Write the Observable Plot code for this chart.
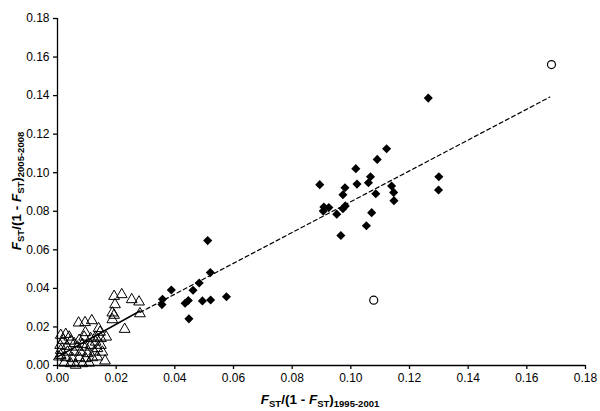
<!DOCTYPE html>
<html>
<head>
<meta charset="utf-8">
<script src="https://cdn.jsdelivr.net/npm/d3@7"></script>
<script src="https://cdn.jsdelivr.net/npm/@observablehq/plot@0.6"></script>
<style>
  html, body { margin: 0; padding: 0; background: white; }
</style>
</head>
<body>
<div id="chart"></div>
<script>
// Tick values
const xTicks = [0, 0.02, 0.04, 0.06, 0.08, 0.10, 0.12, 0.14, 0.16, 0.18];
const yTicks = [0, 0.02, 0.04, 0.06, 0.08, 0.10, 0.12, 0.14, 0.16, 0.18];

// Open triangles (small values)
const triX = [0.0193, 0.0219, 0.0253, 0.0278, 0.0196, 0.0187, 0.0193, 0.0187, 0.0281, 0.0072,
              0.0094, 0.0117, 0.0095, 0.0140, 0.0145, 0.0166, 0.0229, 0.0162, 0.0028,
              0.0011, 0.0040, 0.0020, 0.0045, 0.0009, 0.0032, 0.0057, 0.0074, 0.0085, 0.0068,
              0.0096, 0.0113, 0.0130, 0.0136, 0.0148, 0.0153, 0.0125, 0.0102, 0.0079, 0.0057,
              0.0034, 0.0011, 0.0005, 0.0028, 0.0051, 0.0074, 0.0096, 0.0119, 0.0045, 0.0062,
              0.0085, 0.0108, 0.0023, 0.0130, 0.0148, 0.0011, 0.0136, 0.0091, 0.0113];
const triY = [0.0359, 0.0368, 0.0342, 0.0330, 0.0316, 0.0273, 0.0261, 0.0238, 0.0269, 0.0221,
              0.0223, 0.0233, 0.0171, 0.0192, 0.0173, 0.0148, 0.0188, 0.0024, 0.0162,
              0.0157, 0.0148, 0.0131, 0.0127, 0.0105, 0.0100, 0.0114, 0.0131, 0.0110, 0.0096,
              0.0096, 0.0105, 0.0122, 0.0088, 0.0105, 0.0070, 0.0070, 0.0062, 0.0070, 0.0070,
              0.0070, 0.0079, 0.0045, 0.0041, 0.0036, 0.0041, 0.0036, 0.0041, 0.0010, 0.0002,
              0.0010, 0.0013, 0.0013, 0.0148, 0.0140, 0.0053, 0.0045, 0.0148, 0.0140];

// Filled diamonds
const diaX = [0.1264, 0.1122, 0.1090, 0.1017, 0.0894, 0.1067, 0.1060, 0.1021, 0.0980, 0.0973,
              0.1085, 0.1139, 0.1146, 0.1147, 0.1300, 0.1299, 0.0908, 0.0925, 0.0906, 0.0952,
              0.0973, 0.0981, 0.1071, 0.1053, 0.0966,
              0.0512, 0.0521, 0.0483, 0.0462, 0.0388, 0.0358, 0.0356, 0.0446, 0.0435, 0.0494,
              0.0522, 0.0576, 0.0448];
const diaY = [0.1387, 0.1124, 0.1069, 0.1021, 0.0938, 0.0979, 0.0948, 0.0941, 0.0922, 0.0886,
              0.0891, 0.0931, 0.0898, 0.0855, 0.0979, 0.0910, 0.0822, 0.0819, 0.0801, 0.0785,
              0.0813, 0.0828, 0.0793, 0.0725, 0.0674,
              0.0648, 0.0482, 0.0428, 0.0390, 0.0392, 0.0344, 0.0316, 0.0337, 0.0323, 0.0335,
              0.0340, 0.0357, 0.0242];

// Open circles
const circX = [0.1684, 0.1078];
const circY = [0.1561, 0.0339];

// Regression lines (endpoints)
const solidX = [0.0, 0.0281];
const solidY = [0.0045, 0.0283];
const dashX = [0.0281, 0.1678];
const dashY = [0.0275, 0.1392];

const zip = (xs, ys) => xs.map((x, i) => ({x, y: ys[i]}));
const tri = zip(triX, triY);
const dia = zip(diaX, diaY);
const circ = zip(circX, circY);
const solid = zip(solidX, solidY);
const dash = zip(dashX, dashY);

const fmt = d => d.toFixed(2);

const chart = Plot.plot({
  width: 600,
  height: 411,
  marginLeft: 57,
  marginRight: 15,
  marginTop: 18,
  marginBottom: 46,
  x: {domain: [0, 0.18]},
  y: {domain: [0, 0.18]},
  style: {fontFamily: "'Liberation Sans', Arial, sans-serif", fontSize: "12px", color: "black", background: "white"},
  marks: [
    Plot.dot(tri, {x: "x", y: "y", symbol: "triangle", r: 4, fill: "none", stroke: "black", strokeWidth: 1}),
    Plot.line(solid, {x: "x", y: "y", stroke: "black", strokeWidth: 1.6}),
    Plot.line(dash, {x: "x", y: "y", stroke: "black", strokeWidth: 1.2, strokeDasharray: "4,3"}),
    Plot.dot(dia, {x: "x", y: "y", symbol: "diamond2", r: 4.1, fill: "black", stroke: "none"}),
    Plot.dot(circ, {x: "x", y: "y", r: 4, fill: "white", stroke: "black", strokeWidth: 1.2}),
    Plot.ruleX([0], {stroke: "black", strokeWidth: 1.3}),
    Plot.ruleY([0], {stroke: "black", strokeWidth: 1.3}),
    Plot.axisX(xTicks, {tickFormat: fmt, tickSize: 4, tickPadding: 4, label: null, fontSize: 12, strokeWidth: 1.3}),
    Plot.axisY(yTicks, {tickFormat: fmt, tickSize: 4, tickPadding: 4, label: null, fontSize: 12, strokeWidth: 1.3})
  ]
});

const svg = d3.select(chart);

function addLabel(g, parts) {
  parts.forEach(p => {
    const t = g.append("tspan").text(p.t);
    if (p.i) t.attr("font-style", "italic");
    if (p.sub) t.attr("font-size", "9.5px").attr("dy", p.dy);
    else if (p.dy) t.attr("dy", p.dy);
  });
}

const xl = svg.append("text")
  .attr("x", 320).attr("y", 404)
  .attr("text-anchor", "middle")
  .attr("font-weight", "bold")
  .attr("font-size", "13.5px")
  .attr("fill", "black");
addLabel(xl, [
  {t: "F", i: true},
  {t: "ST", sub: true, dy: "3"},
  {t: "/(1 - ", dy: "-3"},
  {t: "F", i: true},
  {t: "ST", sub: true, dy: "3"},
  {t: ")", dy: "-3"},
  {t: "1995-2001", sub: true, dy: "3"}
]);

const yl = svg.append("text")
  .attr("transform", "translate(21,191) rotate(-90)")
  .attr("text-anchor", "middle")
  .attr("font-weight", "bold")
  .attr("font-size", "13.5px")
  .attr("fill", "black");
addLabel(yl, [
  {t: "F", i: true},
  {t: "ST", sub: true, dy: "3"},
  {t: "/(1 - ", dy: "-3"},
  {t: "F", i: true},
  {t: "ST", sub: true, dy: "3"},
  {t: ")", dy: "-3"},
  {t: "2005-2008", sub: true, dy: "3"}
]);

document.getElementById("chart").appendChild(chart);
</script>
</body>
</html>
